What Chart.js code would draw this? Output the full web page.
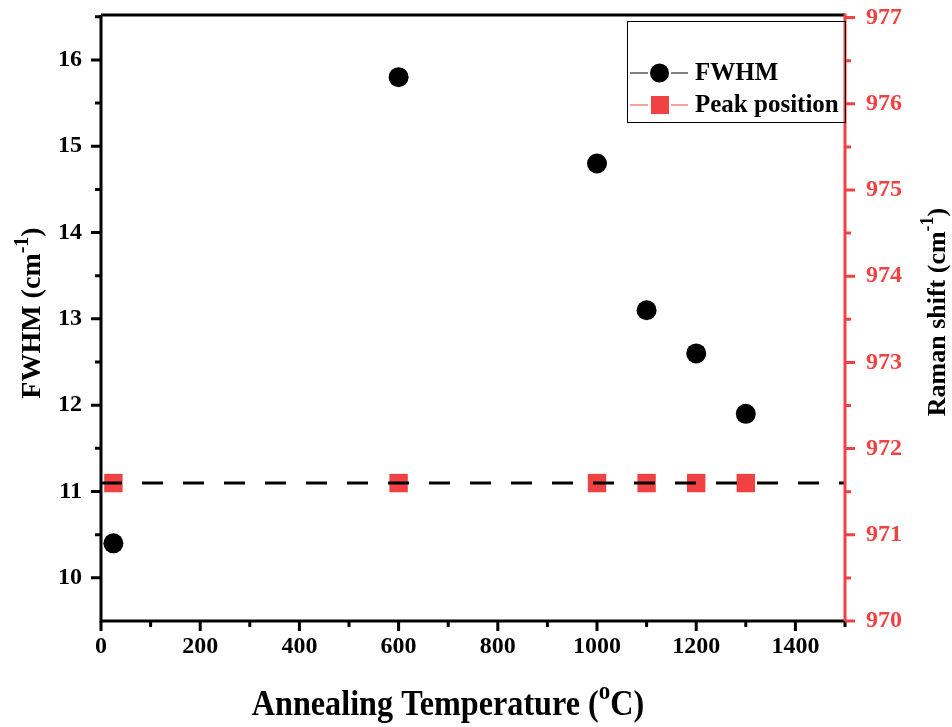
<!DOCTYPE html>
<html>
<head>
<meta charset="utf-8">
<script src="https://cdn.jsdelivr.net/npm/chart.js@4.4.1/dist/chart.umd.min.js"></script>
<style>
  html, body { margin: 0; padding: 0; background: #fff; }
  #wrap { width: 952px; height: 727px; }
</style>
</head>
<body>
<div id="wrap"><canvas id="chart"></canvas></div>
<script>
// data
const temps = [25, 600, 1000, 1100, 1200, 1300];
const fwhm = [10.4, 15.8, 14.8, 13.1, 12.6, 11.9];
const peakPos = [971.6, 971.6, 971.6, 971.6, 971.6, 971.6];
const fitX = [0, 1500];
const fitY = [971.6, 971.6];
const xTicks = [0, 200, 400, 600, 800, 1000, 1200, 1400];
const leftTicks = [10, 11, 12, 13, 14, 15, 16];
const rightTicks = [970, 971, 972, 973, 974, 975, 976, 977];

const RED = 'rgb(240,66,66)';
const FONT = '"Liberation Serif", "Times New Roman", serif';

// draw text with superscript pieces, centred at 0,0
function richText(ctx, parts, size) {
  const big = 'bold ' + size + 'px ' + FONT;
  const small = 'bold ' + Math.round(size * 0.7) + 'px ' + FONT;
  let w = 0;
  parts.forEach(p => { ctx.font = p.sup ? small : big; w += ctx.measureText(p.t).width; });
  let x = -w / 2;
  ctx.textBaseline = 'middle';
  ctx.textAlign = 'left';
  parts.forEach(p => {
    ctx.font = p.sup ? small : big;
    ctx.fillText(p.t, x, p.sup ? -size * 0.38 : 0);
    x += ctx.measureText(p.t).width;
  });
}

// fixed box sizes, no extra label padding
function fixSize(w, h) {
  return s => {
    if (w) s.width = w;
    if (h) s.height = h;
    s.paddingTop = 0;
    s.paddingBottom = 0;
    s.paddingLeft = 0;
    s.paddingRight = 0;
  };
}

const decor = {
  id: 'decor',
  afterDraw(chart) {
    const ctx = chart.ctx;
    const a = chart.chartArea;
    const xs = chart.scales.x, yl = chart.scales.y, yr = chart.scales.y2;
    ctx.save();
    ctx.lineCap = 'butt';

    // frame
    ctx.lineWidth = 3;
    ctx.strokeStyle = '#000';
    ctx.beginPath();
    ctx.moveTo(a.left, a.top); ctx.lineTo(a.right, a.top);
    ctx.moveTo(a.left, a.top); ctx.lineTo(a.left, a.bottom + 1.5);
    ctx.moveTo(a.left - 1.5, a.bottom); ctx.lineTo(a.right, a.bottom);
    ctx.stroke();
    ctx.strokeStyle = RED;
    ctx.beginPath();
    ctx.moveTo(a.right, a.top - 1.5); ctx.lineTo(a.right, a.bottom + 1.5);
    ctx.stroke();

    // x ticks
    ctx.strokeStyle = '#000';
    ctx.beginPath();
    for (let v = 0; v <= 1500; v += 100) {
      const px = xs.getPixelForValue(v);
      ctx.moveTo(px, a.bottom);
      ctx.lineTo(px, a.bottom + (v % 200 === 0 ? 10 : 6));
    }
    // left ticks
    for (let v = 10; v <= 16.5; v += 0.5) {
      const py = yl.getPixelForValue(v);
      ctx.moveTo(a.left, py);
      ctx.lineTo(a.left - (v % 1 === 0 ? 10 : 6), py);
    }
    ctx.stroke();
    // right ticks
    ctx.strokeStyle = RED;
    ctx.beginPath();
    for (let v = 970; v <= 977; v += 0.5) {
      const py = yr.getPixelForValue(v);
      ctx.moveTo(a.right, py);
      ctx.lineTo(a.right + (v % 1 === 0 ? 10 : 6), py);
    }
    ctx.stroke();

    // axis titles
    ctx.fillStyle = '#000';
    ctx.save();
    ctx.translate(448, 706);
    ctx.scale(0.92, 1);
    richText(ctx, [{t: 'Annealing Temperature ('}, {t: 'o', sup: true}, {t: 'C)'}], 35);
    ctx.restore();

    ctx.save();
    ctx.translate(33, 313);
    ctx.rotate(-Math.PI / 2);
    richText(ctx, [{t: 'FWHM (cm'}, {t: '-1', sup: true}, {t: ')'}], 28);
    ctx.restore();

    ctx.save();
    ctx.translate(938, 312);
    ctx.rotate(-Math.PI / 2);
    richText(ctx, [{t: 'Raman shift (cm'}, {t: '-1', sup: true}, {t: ')'}], 26);
    ctx.restore();

    // legend
    const lx = 627, ly = 21, lw = a.right - lx, lh = 101;
    ctx.lineWidth = 1;
    ctx.strokeStyle = '#000';
    ctx.strokeRect(lx + 0.5, ly + 0.5, lw, lh);
    const rows = [
      {label: 'FWHM', color: '#000', y: 73, shape: 'circle'},
      {label: 'Peak position', color: RED, y: 105, shape: 'square'}
    ];
    rows.forEach(r => {
      ctx.strokeStyle = r.color;
      ctx.fillStyle = r.color;
      ctx.lineWidth = 1;
      ctx.beginPath();
      ctx.moveTo(630, r.y); ctx.lineTo(648, r.y);
      ctx.moveTo(671, r.y); ctx.lineTo(688, r.y);
      ctx.stroke();
      ctx.beginPath();
      if (r.shape === 'circle') {
        ctx.arc(659.5, r.y, 9.5, 0, Math.PI * 2);
        ctx.fill();
      } else {
        ctx.fillRect(651, r.y - 9, 18, 18);
      }
      ctx.fillStyle = '#000';
      ctx.font = 'bold 25px ' + FONT;
      ctx.textAlign = 'left';
      ctx.textBaseline = 'middle';
      ctx.fillText(r.label, 695, r.y + 1);
    });
    ctx.restore();
  }
};

new Chart(document.getElementById('chart'), {
  type: 'scatter',
  data: {
    datasets: [
      {
        label: 'fit',
        data: fitX.map((x, i) => ({x: x, y: fitY[i]})),
        yAxisID: 'y2',
        showLine: true,
        borderColor: '#000',
        borderWidth: 3,
        borderDash: [21, 20],
        pointRadius: 0,
        order: 0
      },
      {
        label: 'FWHM',
        data: temps.map((x, i) => ({x: x, y: fwhm[i]})),
        yAxisID: 'y',
        pointStyle: 'circle',
        pointRadius: 10,
        backgroundColor: '#000',
        borderColor: '#000',
        borderWidth: 0,
        order: 1
      },
      {
        label: 'Peak position',
        data: temps.map((x, i) => ({x: x, y: peakPos[i]})),
        yAxisID: 'y2',
        pointStyle: 'rect',
        pointRadius: 13,
        backgroundColor: RED,
        borderColor: RED,
        borderWidth: 0,
        order: 2
      }
    ]
  },
  options: {
    responsive: true,
    maintainAspectRatio: false,
    animation: false,
    layout: { autoPadding: false, padding: { top: 15, left: 0, right: 0, bottom: 0 } },
    plugins: {
      legend: { display: false },
      tooltip: { enabled: false }
    },
    scales: {
      x: {
        type: 'linear',
        min: 0,
        max: 1500,
        afterBuildTicks: s => { s.ticks = xTicks.map(v => ({value: v})); },
        afterFit: fixSize(0, 106),
        grid: { display: false },
        border: { display: false },
        ticks: {
          color: '#000',
          padding: 3,
          maxRotation: 0,
          callback: v => String(v),
          font: { family: FONT, size: 24, weight: 'bold' }
        }
      },
      y: {
        position: 'left',
        min: 9.5,
        max: 16.52,
        afterBuildTicks: s => { s.ticks = leftTicks.map(v => ({value: v})); },
        afterFit: fixSize(101, 0),
        grid: { display: false },
        border: { display: false },
        ticks: {
          color: '#000',
          padding: 11,
          font: { family: FONT, size: 24, weight: 'bold' }
        }
      },
      y2: {
        position: 'right',
        min: 970,
        max: 977.03,
        afterBuildTicks: s => { s.ticks = rightTicks.map(v => ({value: v})); },
        afterFit: fixSize(107, 0),
        grid: { display: false },
        border: { display: false },
        ticks: {
          color: RED,
          padding: 13,
          font: { family: FONT, size: 24, weight: 'bold' }
        }
      }
    }
  },
  plugins: [decor]
});
</script>
</body>
</html>
